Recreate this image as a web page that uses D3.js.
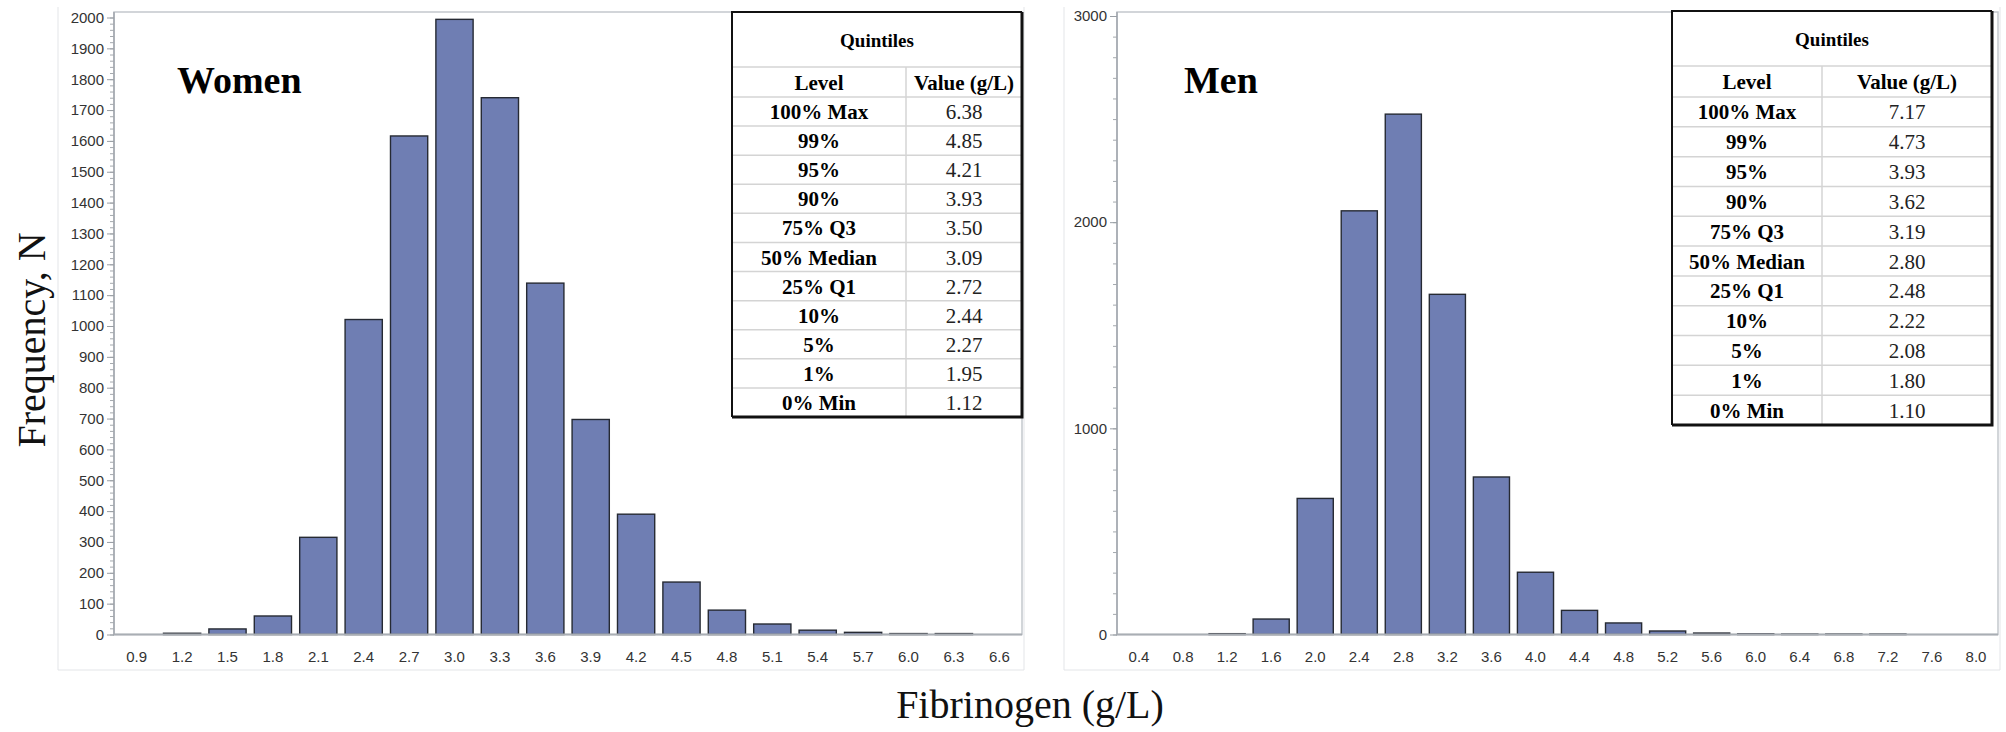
<!DOCTYPE html>
<html>
<head>
<meta charset="utf-8">
<script src="https://cdn.jsdelivr.net/npm/d3@7"></script>
<style>
  body { margin: 0; background: #fff; }
  svg { display: block; }
</style>
</head>
<body>
<div id="chart"></div>
<script>
// histogram bins (midpoints, g/L) and counts
const womenBins = ["0.9","1.2","1.5","1.8","2.1","2.4","2.7","3.0","3.3","3.6",
                   "3.9","4.2","4.5","4.8","5.1","5.4","5.7","6.0","6.3","6.6"];
const womenCounts = [0, 4, 18, 60, 315, 1021, 1616, 1994, 1740, 1139,
                     697, 390, 170, 79, 34, 14, 7, 3, 3, 0];

const menBins = ["0.4","0.8","1.2","1.6","2.0","2.4","2.8","3.2","3.6","4.0",
                 "4.4","4.8","5.2","5.6","6.0","6.4","6.8","7.2","7.6","8.0"];
const menCounts = [0, 0, 4, 75, 660, 2055, 2524, 1650, 764, 302,
                   117, 56, 17, 7, 3, 2, 2, 2, 0, 0];

// y axis tick labels
const womenYTicks = [0,100,200,300,400,500,600,700,800,900,1000,
                     1100,1200,1300,1400,1500,1600,1700,1800,1900,2000];
const menYTicks = [0, 1000, 2000, 3000];

// quantile tables
const quantileLevels = ["100% Max","99%","95%","90%","75% Q3","50% Median",
                        "25% Q1","10%","5%","1%","0% Min"];
const womenQuantiles = ["6.38","4.85","4.21","3.93","3.50","3.09","2.72","2.44","2.27","1.95","1.12"];
const menQuantiles   = ["7.17","4.73","3.93","3.62","3.19","2.80","2.48","2.22","2.08","1.80","1.10"];

const width = 2006;
const height = 732;
const barFill = "#6f7eb3";

const svg = d3.select("#chart")
    .append("svg")
    .attr("width", width)
    .attr("height", height);

drawPanel({
    bins: womenBins, counts: womenCounts,
    yTicks: womenYTicks, yMax: 2000, minorStep: 20,
    frame: {left: 58, right: 1024, top: 7, bottom: 670},
    plot: {left: 114, right: 1022, top: 12, bottom: 634.5, yTop: 17.5},
    title: "Women", titleX: 177,
    table: {left: 732, right: 1022, mid: 906, top: 12, headBottom: 67, bodyTop: 97, bottom: 417},
    values: womenQuantiles
});

drawPanel({
    bins: menBins, counts: menCounts,
    yTicks: menYTicks, yMax: 3000, minorStep: 100,
    frame: {left: 1064, right: 2000, top: 7, bottom: 670},
    plot: {left: 1117, right: 1998, top: 12, bottom: 634.5, yTop: 16},
    title: "Men", titleX: 1184,
    table: {left: 1672, right: 1992, mid: 1822, top: 11, headBottom: 66, bodyTop: 97, bottom: 425},
    values: menQuantiles
});

// shared axis titles
svg.append("text")
    .attr("transform", "translate(45,340) rotate(-90)")
    .attr("text-anchor", "middle")
    .style("font-family", "'Liberation Serif', 'Times New Roman', serif")
    .style("font-size", "40px")
    .attr("fill", "#111")
    .text("Frequency, N");

svg.append("text")
    .attr("x", 1030)
    .attr("y", 718)
    .attr("text-anchor", "middle")
    .style("font-family", "'Liberation Serif', 'Times New Roman', serif")
    .style("font-size", "40px")
    .attr("fill", "#111")
    .text("Fibrinogen (g/L)");

function drawPanel(o) {
    const p = o.plot;
    const g = svg.append("g");

    // light outer frame (left, bottom, right)
    g.append("path")
        .attr("d", `M${o.frame.left},${o.frame.top}V${o.frame.bottom}H${o.frame.right}V${o.frame.top}`)
        .attr("fill", "none")
        .attr("stroke", "#e3e5e8")
        .attr("stroke-width", 1);

    // plot area border
    g.append("rect")
        .attr("x", p.left)
        .attr("y", p.top)
        .attr("width", p.right - p.left)
        .attr("height", p.bottom - p.top)
        .attr("fill", "none")
        .attr("stroke", "#c3c8cd")
        .attr("stroke-width", 1.5);

    const x = d3.scaleBand()
        .domain(o.bins)
        .range([p.left, p.right])
        .paddingInner(0.18)
        .paddingOuter(0.09);

    const y = d3.scaleLinear()
        .domain([0, o.yMax])
        .range([p.bottom, p.yTop]);

    // bars
    const data = o.bins.map((b, i) => ({bin: b, count: o.counts[i]}));
    g.append("g")
        .selectAll("rect")
        .data(data.filter(d => d.count > 0))
        .join("rect")
        .attr("x", d => x(d.bin))
        .attr("y", d => y(d.count))
        .attr("width", x.bandwidth())
        .attr("height", d => p.bottom - y(d.count))
        .attr("fill", barFill)
        .attr("stroke", "#262a33")
        .attr("stroke-width", 1.4);

    // axis lines
    g.append("path")
        .attr("d", `M${p.left},${p.top}V${p.bottom}H${p.right}`)
        .attr("fill", "none")
        .attr("stroke", "#a9aeb4")
        .attr("stroke-width", 1.8);

    // minor y ticks
    g.append("g")
        .attr("transform", `translate(${p.left},0)`)
        .call(d3.axisLeft(y).tickValues(d3.range(0, o.yMax + 1, o.minorStep)).tickSize(4).tickFormat(""))
        .call(a => a.select(".domain").remove())
        .selectAll("line").attr("stroke", "#a4a9ae");

    // major y ticks
    const yAxis = g.append("g")
        .attr("transform", `translate(${p.left},0)`)
        .call(d3.axisLeft(y).tickValues(o.yTicks).tickSize(7).tickPadding(3).tickFormat(d3.format("d")));
    yAxis.select(".domain").remove();
    yAxis.selectAll("line").attr("stroke", "#9a9fa5");
    yAxis.selectAll("text")
        .attr("fill", "#333")
        .style("font-family", "'Liberation Sans', Arial, sans-serif")
        .style("font-size", "15px");

    // x labels
    const xAxis = g.append("g")
        .attr("transform", `translate(0,${p.bottom})`)
        .call(d3.axisBottom(x).tickSize(0).tickPadding(17));
    xAxis.select(".domain").remove();
    xAxis.selectAll("text")
        .attr("fill", "#333")
        .style("font-family", "'Liberation Sans', Arial, sans-serif")
        .style("font-size", "15px");

    // panel title
    g.append("text")
        .attr("x", o.titleX)
        .attr("y", 93)
        .style("font-family", "'Liberation Serif', 'Times New Roman', serif")
        .style("font-size", "38px")
        .style("font-weight", "bold")
        .attr("fill", "#000")
        .text(o.title);

    drawTable(o.table, o.values);
}

function drawTable(t, values) {
    const g = svg.append("g");
    const serif = "'Liberation Serif', 'Times New Roman', serif";
    const rowH = (t.bottom - t.bodyTop) / quantileLevels.length;

    g.append("rect")
        .attr("x", t.left).attr("y", t.top)
        .attr("width", t.right - t.left).attr("height", t.bottom - t.top)
        .attr("fill", "#fff");

    // inner grid
    const hLines = [t.headBottom, t.bodyTop].concat(d3.range(1, quantileLevels.length).map(i => t.bodyTop + i * rowH));
    g.selectAll("line.h")
        .data(hLines)
        .join("line")
        .attr("x1", t.left).attr("x2", t.right)
        .attr("y1", d => d).attr("y2", d => d)
        .attr("stroke", "#d4d4d4")
        .attr("stroke-width", 1.5);
    g.append("line")
        .attr("x1", t.mid).attr("x2", t.mid)
        .attr("y1", t.headBottom).attr("y2", t.bottom)
        .attr("stroke", "#d4d4d4")
        .attr("stroke-width", 1.5);

    // outer border, heavier on right and bottom
    g.append("path")
        .attr("d", `M${t.left},${t.bottom}V${t.top}H${t.right}`)
        .attr("fill", "none").attr("stroke", "#111").attr("stroke-width", 2);
    g.append("path")
        .attr("d", `M${t.left},${t.bottom}H${t.right}V${t.top}`)
        .attr("fill", "none").attr("stroke", "#111").attr("stroke-width", 3);

    const leftC = (t.left + t.mid) / 2;
    const rightC = (t.mid + t.right) / 2;

    g.append("text")
        .attr("x", (t.left + t.right) / 2)
        .attr("y", (t.top + t.headBottom) / 2 + 7)
        .attr("text-anchor", "middle")
        .style("font-family", serif).style("font-size", "19px").style("font-weight", "bold")
        .text("Quintiles");

    const headY = (t.headBottom + t.bodyTop) / 2 + 7.5;
    g.append("text")
        .attr("x", leftC).attr("y", headY)
        .attr("text-anchor", "middle")
        .style("font-family", serif).style("font-size", "21px").style("font-weight", "bold")
        .text("Level");
    g.append("text")
        .attr("x", rightC).attr("y", headY)
        .attr("text-anchor", "middle")
        .style("font-family", serif).style("font-size", "21px").style("font-weight", "bold")
        .text("Value (g/L)");

    g.selectAll("text.level")
        .data(quantileLevels)
        .join("text")
        .attr("class", "level")
        .attr("x", leftC)
        .attr("y", (d, i) => t.bodyTop + (i + 0.5) * rowH + 7.5)
        .attr("text-anchor", "middle")
        .style("font-family", serif).style("font-size", "21px").style("font-weight", "bold")
        .text(d => d);

    g.selectAll("text.val")
        .data(values)
        .join("text")
        .attr("class", "val")
        .attr("x", rightC)
        .attr("y", (d, i) => t.bodyTop + (i + 0.5) * rowH + 7.5)
        .attr("text-anchor", "middle")
        .style("font-family", serif).style("font-size", "21px").attr("fill", "#222")
        .text(d => d);
}
</script>
</body>
</html>
